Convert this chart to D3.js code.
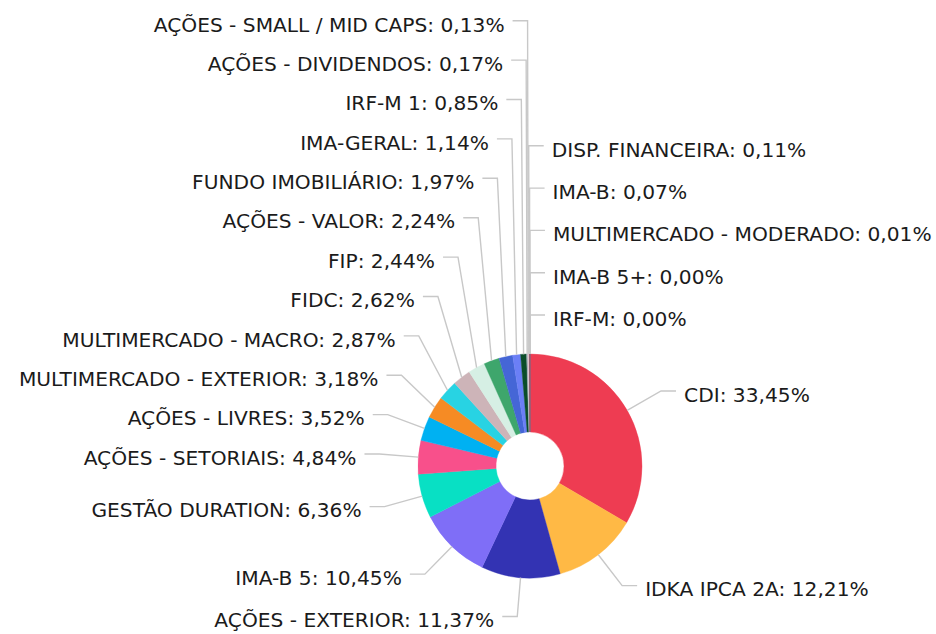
<!DOCTYPE html>
<html>
<head>
<meta charset="utf-8">
<script src="https://cdn.jsdelivr.net/npm/d3@7"></script>
<style>
html, body { margin: 0; padding: 0; background: #ffffff; }
svg { display: block; }
</style>
</head>
<body>
<svg id="chart" width="936" height="634"></svg>
<script>
// ---- Data ----
const categories = [
  "CDI", "IDKA IPCA 2A", "AÇÕES - EXTERIOR", "IMA-B 5", "GESTÃO DURATION",
  "AÇÕES - SETORIAIS", "AÇÕES - LIVRES", "MULTIMERCADO - EXTERIOR", "MULTIMERCADO - MACRO",
  "FIDC", "FIP", "AÇÕES - VALOR", "FUNDO IMOBILIÁRIO", "IMA-GERAL", "IRF-M 1",
  "AÇÕES - DIVIDENDOS", "AÇÕES - SMALL / MID CAPS", "DISP. FINANCEIRA", "IMA-B",
  "MULTIMERCADO - MODERADO", "IMA-B 5+", "IRF-M"
];
const values = [
  33.45, 12.21, 11.37, 10.45, 6.36,
  4.84, 3.52, 3.18, 2.87,
  2.62, 2.44, 2.24, 1.97, 1.14, 0.85,
  0.17, 0.13, 0.11, 0.07,
  0.01, 0.00, 0.00
];
const colors = [
  "#ee3c52", "#ffb945", "#3333b3", "#7f6ef7", "#08e0c4",
  "#f8508b", "#00b1f2", "#f68b24", "#28d3e3",
  "#cdb4b8", "#d6efe4", "#3ea66c", "#4566d6", "#6b7ff6", "#0a4d2a",
  "#9aa5b1", "#d0d0d0", "#f5b3c0", "#5a5a5a",
  "#ee3c52", "#ffb945", "#3333b3"
];

// ---- Layout constants ----
const W = 936, H = 634;
const cx = 530, cy = 466;
const rOuter = 112, rInner = 34;
const rElbow = 151;     // radius where connector bends
const hLen = 15;        // horizontal connector length
const gap = 8;          // gap between connector and text
const S = 42.3;         // preferred label spacing
const topY = 20.7;      // top bound for label line y

const fmt = d3.format(".2f");
const data = categories.map((c, i) => ({ name: c, value: values[i], color: colors[i], i }));

const svg = d3.select("#chart");
svg.append("rect").attr("width", W).attr("height", H).attr("fill", "#ffffff");

const pie = d3.pie().sort(null).value(d => d.value).startAngle(0).endAngle(2 * Math.PI);
const arcs = pie(data);
const arcGen = d3.arc().innerRadius(rInner).outerRadius(rOuter);

const g = svg.append("g").attr("transform", `translate(${cx},${cy})`);
g.selectAll("path.slice")
  .data(arcs)
  .join("path")
  .attr("class", "slice")
  .attr("d", arcGen)
  .attr("fill", d => d.data.color)
  .attr("stroke", d => d.data.color)
  .attr("stroke-width", 0.4);

// ---- Label layout ----
const items = arcs.map(a => {
  const mid = (a.startAngle + a.endAngle) / 2;
  const deg = mid * 180 / Math.PI;
  const side = (Math.round(deg) % 360) < 180 ? "right" : "left";
  return {
    a, mid, deg,
    signed: deg >= 180 ? deg - 360 : deg,
    side,
    ax: cx + rOuter * Math.sin(mid),
    ay: cy - rOuter * Math.cos(mid),
    ex: cx + rElbow * Math.sin(mid),
    ny: cy - rElbow * Math.cos(mid),
    label: `${a.data.name}: ${fmt(a.data.value).replace(".", ",")}%`
  };
});

function layoutSide(list) {
  const n = list.length;
  if (!n) return;
  list.forEach(d => d.y = d.ny);
  for (let i = n - 2; i >= 0; i--) list[i].y = Math.min(list[i].ny, list[i + 1].y - S);
  if (list[0].y < topY) {
    let m = 0;
    while (m < n - 1 && list[m].y < list[m].ny - 1e-6) m++;
    if (m === 0) list[0].y = topY;
    else {
      const step = (list[m].y - topY) / m;
      for (let i = 0; i < m; i++) list[i].y = topY + i * step;
    }
  }
}

const right = items.filter(d => d.side === "right").sort((p, q) => p.signed - q.signed);
const left = items.filter(d => d.side === "left").sort((p, q) => q.deg - p.deg);
layoutSide(right);
layoutSide(left);

const all = left.concat(right);
const line = d3.line();
svg.append("g").selectAll("path.conn")
  .data(all)
  .join("path")
  .attr("class", "conn")
  .attr("fill", "none")
  .attr("stroke", "#c8c8c8")
  .attr("stroke-width", 1.4)
  .attr("d", d => {
    const dir = d.side === "right" ? 1 : -1;
    return line([[d.ax, d.ay], [d.ex, d.y], [d.ex + dir * hLen, d.y]]);
  });

svg.append("g").selectAll("text.lbl")
  .data(all)
  .join("text")
  .attr("class", "lbl")
  .attr("x", d => d.ex + (d.side === "right" ? 1 : -1) * (hLen + gap))
  .attr("y", d => d.y + 10.8)
  .attr("text-anchor", d => d.side === "right" ? "start" : "end")
  .attr("font-family", "'DejaVu Sans', Verdana, sans-serif")
  .attr("font-size", 20.2)
  .attr("fill", "#1b1b1b")
  .text(d => d.label);
</script>
</body>
</html>
